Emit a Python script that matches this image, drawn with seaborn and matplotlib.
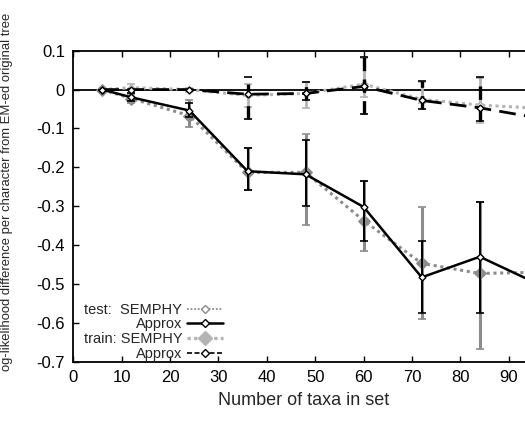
import numpy as np
import pandas as pd
import matplotlib
matplotlib.use('Agg')
import matplotlib.pyplot as plt
import seaborn as sns
from matplotlib.lines import Line2D

taxa = [6, 12, 24, 36, 48, 60, 72, 84, 96]

test_semphy = [0.0, -0.023, -0.067, -0.213, -0.213, -0.337, -0.447, -0.473, -0.47]
test_semphy_lo = [0.0, -0.035, -0.097, -0.259, -0.349, -0.414, -0.59, -0.667, -0.47]
test_semphy_hi = [0.0, -0.012, -0.026, -0.150, -0.114, -0.235, -0.302, -0.289, -0.47]

test_approx = [0.0, -0.02, -0.054, -0.21, -0.218, -0.302, -0.483, -0.43, -0.50]
test_approx_lo = [0.0, -0.03, -0.07, -0.259, -0.30, -0.39, -0.575, -0.574, -0.50]
test_approx_hi = [0.0, -0.01, -0.035, -0.150, -0.13, -0.235, -0.389, -0.289, -0.50]

train_semphy = [0.0, 0.005, 0.0, -0.015, -0.01, 0.014, -0.025, -0.04, -0.048]
train_semphy_lo = [0.0, -0.01, -0.005, -0.045, -0.048, -0.02, -0.035, -0.085, -0.048]
train_semphy_hi = [0.0, 0.015, 0.005, 0.015, 0.02, 0.08, 0.02, 0.03, -0.048]

train_approx = [0.0, 0.0, 0.0, -0.012, -0.01, 0.008, -0.028, -0.047, -0.073]
train_approx_lo = [0.0, 0.0, 0.0, -0.075, -0.028, -0.062, -0.05, -0.08, -0.073]
train_approx_hi = [0.0, 0.0, 0.0, 0.033, 0.02, 0.083, 0.022, 0.033, -0.073]

sns.set_style('white')
plt.rcParams['font.family'] = ['Liberation Sans', 'DejaVu Sans']

fig = plt.figure(figsize=(5.25, 4.23), dpi=100)
ax = fig.add_axes([73.3 / 525, 1 - 361.7 / 423, (533 - 73.3) / 525, (361.7 - 50.7) / 423])

ax.axhline(0, color='black', lw=1.3, zorder=1)


def bars(x, y, lo, hi, color, lw, ls='-', z=2):
    y = np.array(y)
    err = [y - np.array(lo), np.array(hi) - y]
    eb = ax.errorbar(x, y, yerr=err, fmt='none', ecolor=color, elinewidth=lw,
                     capsize=3, capthick=1.2, zorder=z)
    eb[2][0].set_linestyle(ls)
    return eb


# train curves (near zero)
bars(taxa, train_semphy, train_semphy_lo, train_semphy_hi, '#b4b4b4', 2.0, z=2)
sns.lineplot(x=taxa, y=train_semphy, ax=ax, color='#b4b4b4', lw=2.2, linestyle=(0, (1, 1.2)),
             marker='D', markersize=3.5, markerfacecolor='white', markeredgecolor='#b4b4b4',
             markeredgewidth=1.2, zorder=3)
bars(taxa, train_approx, train_approx_lo, train_approx_hi, 'black', 2.4, ls=(0, (4, 2.5)), z=4)
sns.lineplot(x=taxa, y=train_approx, ax=ax, color='black', lw=2.0, linestyle=(0, (6, 3)),
             marker='D', markersize=3.5, markerfacecolor='white', markeredgecolor='black',
             markeredgewidth=1.0, zorder=5)

# test curves
bars(taxa, test_semphy, test_semphy_lo, test_semphy_hi, '#8c8c8c', 2.2, z=2)
sns.lineplot(x=taxa, y=test_semphy, ax=ax, color='#8c8c8c', lw=2.2, linestyle=(0, (1, 1.2)),
             marker='D', markersize=6, markerfacecolor='#8c8c8c', markeredgecolor='#8c8c8c',
             zorder=3)
bars(taxa, test_approx, test_approx_lo, test_approx_hi, 'black', 1.4, z=4)
sns.lineplot(x=taxa, y=test_approx, ax=ax, color='black', lw=1.8,
             marker='D', markersize=3.5, markerfacecolor='white', markeredgecolor='black',
             markeredgewidth=1.0, zorder=5)

ax.set_xlim(0, 95)
ax.set_ylim(-0.7, 0.1)
ax.set_xticks(np.arange(0, 100, 10))
ax.set_yticks(np.round(np.arange(-0.7, 0.11, 0.1), 1))
ax.set_yticklabels(['-0.7', '-0.6', '-0.5', '-0.4', '-0.3', '-0.2', '-0.1', '0', '0.1'])
ax.tick_params(direction='in', length=4, width=1, labelsize=12, top=True, right=False,
               bottom=True, left=True, colors='black', pad=6)
for s in ax.spines.values():
    s.set_color('black')
    s.set_linewidth(1.3)

ax.set_xlabel('Number of taxa in set', fontsize=13, labelpad=5)
fig.text(0.002, 1 - 192 / 423, 'og-likelihood difference per character from EM-ed original tree',
         rotation=90, va='center', ha='left', fontsize=9.4)

handles = [
    Line2D([], [], color='#8c8c8c', lw=1.3, linestyle=(0, (1, 1)), marker='D', markersize=4,
           markerfacecolor='white', markeredgecolor='#8c8c8c'),
    Line2D([], [], color='black', lw=1.8, marker='D', markersize=4,
           markerfacecolor='white', markeredgecolor='black'),
    Line2D([], [], color='#b4b4b4', lw=2.4, linestyle=(0, (1, 1)), marker='D', markersize=7,
           markerfacecolor='#b4b4b4', markeredgecolor='#b4b4b4'),
    Line2D([], [], color='black', lw=1.2, linestyle=(0, (3, 1.5)), marker='D', markersize=4,
           markerfacecolor='white', markeredgecolor='black'),
]
labels = ['test:  SEMPHY', 'Approx', 'train: SEMPHY', 'Approx']
leg = ax.legend(handles, labels, loc='lower left', bbox_to_anchor=(0.0, -0.03),
                markerfirst=False, frameon=False, fontsize=10.5, handlelength=2.5,
                handletextpad=0.3, labelspacing=0.05, borderaxespad=0.3)
for col in leg._legend_handle_box.get_children():
    col.align = 'right'

fig.savefig('out.png', dpi=100)
